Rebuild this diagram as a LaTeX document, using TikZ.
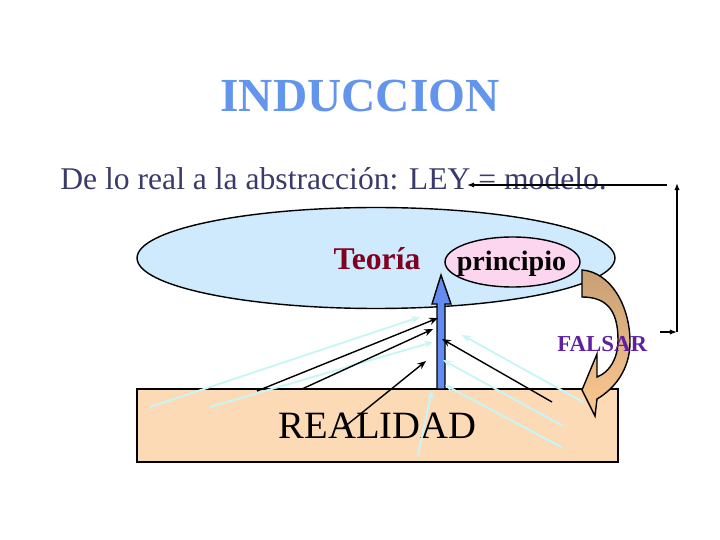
\documentclass[tikz,border=0pt]{standalone}
\usepackage{fontspec}
\setmainfont{Liberation Serif}
\usetikzlibrary{arrows.meta,shapes.geometric}
\definecolor{ctitle}{RGB}{100,149,237}
\definecolor{csub}{RGB}{58,58,108}
\definecolor{cteo}{RGB}{128,0,32}
\definecolor{cfal}{RGB}{96,32,160}
\definecolor{cblob}{RGB}{206,234,252}
\definecolor{cprin}{RGB}{252,214,238}
\definecolor{creal}{RGB}{252,218,182}
\definecolor{cshaft}{RGB}{100,140,240}
\definecolor{clight}{RGB}{200,245,245}
\definecolor{cbrtop}{RGB}{200,160,116}
\definecolor{cbrbot}{RGB}{252,200,145}

\begin{document}
\begin{tikzpicture}[
  x=0.02cm,y=-0.02cm,
  blob/.style={ellipse,draw,thick,inner sep=0pt},
  box/.style={draw,thick,inner sep=0pt},
  light/.style={-{Stealth[length=5pt,width=4pt]},draw=clight,line width=1.1pt},
  dark/.style={-{Stealth[length=5pt,width=4pt]},line width=0.8pt},
  link/.style={-{Latex[length=4pt,width=3pt]},line width=0.8pt}
]
\useasboundingbox (0,0) rectangle (720,540);

% ---- titles ----
\node[anchor=base,text=ctitle,font={\fontsize{27}{32}\selectfont\bfseries}] (title) at (360,112) {INDUCCION};
\node[anchor=base west,text=csub,inner sep=0pt,font={\fontsize{18}{22}\selectfont}] (sub) at (60,190) {De lo real a la abstracción: LEY = modelo.};

% ---- theory ----
\node[blob,fill=cblob,minimum width=9.56cm,minimum height=2.02cm] (theory) at (376,258) {};
\node[anchor=base,inner sep=0pt,text=cteo,font={\fontsize{18}{22}\selectfont\bfseries}] (teoria) at (377,270) {Teoría};
\filldraw[fill=cprin,draw=black,thick] (512.5,262) ellipse[x radius=1.35cm,y radius=0.5cm];
\node[anchor=base,inner sep=0pt,font={\fontsize{16}{20}\selectfont\bfseries}] (princ) at (511.5,271) {principio};

% ---- reality ----
\node[box,fill=creal,minimum width=9.62cm,minimum height=1.46cm,font={\fontsize{22}{26}\selectfont}] (real) at (377.5,425.5) {REALIDAD};

% ---- induction arrow ----
\filldraw[fill=cshaft,draw=black,thick] (437,389) -- (437,304) -- (432,304) -- (441,275) -- (451,304) -- (445,304) -- (445,389) -- cycle;

\foreach \i/\ax/\ay/\bx/\by in {1/150/407/420/317, 2/210/407/433/342, 3/418/455/432/390,
    4/583/402/462/335, 5/563/426/443/360, 6/563/448/445/385} {
  \coordinate (lf\i) at (\ax,\ay);
  \coordinate (lt\i) at (\bx,\by);
  \draw[light] (lf\i) -- (lt\i);
}
\foreach \i/\ax/\ay/\bx/\by in {1/257/391/438/318, 2/302/389/433/329, 3/343/428/426/361, 4/552/402/442/339} {
  \coordinate (df\i) at (\ax,\ay);
  \coordinate (dt\i) at (\bx,\by);
  \draw[dark] (df\i) -- (dt\i);
}

% ---- falsar ----
\shadedraw[top color=cbrtop,bottom color=cbrbot,draw=black,thick,line join=miter]
  (582,270) .. controls (610,272) and (630,305) .. (630,342)
  .. controls (630,370) and (614,389) .. (597,399)
  -- (595,416) -- (582,390) -- (597,354) -- (597,377)
  .. controls (610,372) and (618,358) .. (618,340)
  .. controls (618,312) and (608,297) .. (582,297) -- cycle;
\node[anchor=base west,inner sep=0pt,text=cfal,font={\fontsize{13}{16}\selectfont\bfseries}] (falsar) at (557,352) {FALSAR};

\coordinate (ra) at (660,332);
\coordinate (rb) at (677,332);
\coordinate (rc) at (677,183);
\coordinate (rd) at (667,185);
\coordinate (re) at (467,185);
\draw[link] (ra) -- (rb);
\draw[link] (rb) -- (rc);
\draw[link] (rd) -- (re);
\end{tikzpicture}
\end{document}
